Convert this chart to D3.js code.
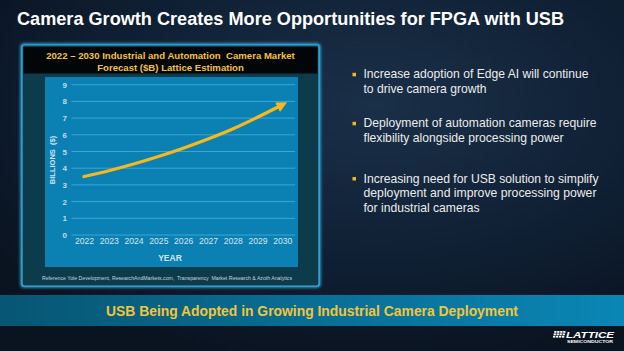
<!DOCTYPE html>
<html>
<head>
<meta charset="utf-8">
<script src="https://cdn.jsdelivr.net/npm/d3@7"></script>
<style>
  html, body { margin: 0; padding: 0; background: #0c1828; }
  svg { display: block; font-family: "Liberation Sans", Arial, sans-serif; }
  text { white-space: pre; }
</style>
</head>
<body>
<div id="chart"></div>
<script>
// Chart data.
const years = ["2022", "2023", "2024", "2025", "2026", "2027", "2028", "2029", "2030"];
const marketValues = [3.5, 3.85, 4.25, 4.7, 5.2, 5.75, 6.35, 7.05, 7.8];
const yTicks = [0, 1, 2, 3, 4, 5, 6, 7, 8, 9];

const slideTitle = "Camera Growth Creates More Opportunities for FPGA with USB";
const chartTitle = ["2022 \u2013 2030 Industrial and Automation  Camera Market", "Forecast ($B) Lattice Estimation"];
const bullets = [
  ["Increase adoption of Edge AI will continue", "to drive camera growth"],
  ["Deployment of automation cameras require", "flexibility alongside processing power"],
  ["Increasing need for USB solution to simplify", "deployment and improve processing power", "for industrial cameras"]
];
const bannerText = "USB Being Adopted in Growing Industrial Camera Deployment";
const sourceText = "Reference Yole Development, ResearchAndMarkets.com,  Transparency  Market Research & Azoth Analytics";

const width = 624;
const height = 351;

const svg = d3.select("#chart")
  .append("svg")
  .attr("width", width)
  .attr("height", height);

const defs = svg.append("defs");

// Background gradient.
const bg = defs.append("radialGradient")
  .attr("id", "bg")
  .attr("cx", "60%").attr("cy", "30%").attr("r", "75%");
bg.append("stop").attr("offset", "0%").attr("stop-color", "#1a3048");
bg.append("stop").attr("offset", "60%").attr("stop-color", "#0f1f33");
bg.append("stop").attr("offset", "100%").attr("stop-color", "#0a1320");

const banner = defs.append("linearGradient")
  .attr("id", "banner")
  .attr("x1", "0%").attr("x2", "100%");
banner.append("stop").attr("offset", "0%").attr("stop-color", "#075673");
banner.append("stop").attr("offset", "100%").attr("stop-color", "#0a86b5");

const glow = defs.append("filter").attr("id", "glow")
  .attr("x", "-10%").attr("y", "-10%").attr("width", "120%").attr("height", "120%");
glow.append("feGaussianBlur").attr("stdDeviation", 1.5);

defs.append("marker")
  .attr("id", "arrow")
  .attr("viewBox", "0 0 10 10")
  .attr("refX", 5).attr("refY", 5)
  .attr("markerWidth", 3.4).attr("markerHeight", 3.4)
  .attr("orient", "auto")
  .append("path")
  .attr("d", "M0,0 L10,5 L0,10 z")
  .attr("fill", "#f6b81c");

svg.append("rect")
  .attr("width", width).attr("height", height)
  .attr("fill", "url(#bg)");

// Slide title.
svg.append("text")
  .attr("x", 17).attr("y", 25)
  .attr("fill", "#ffffff")
  .attr("font-size", 17.5)
  .attr("font-weight", "bold")
  .attr("textLength", 547)
  .attr("lengthAdjust", "spacingAndGlyphs")
  .text(slideTitle);

// Chart frame.
svg.append("rect")
  .attr("x", 22).attr("y", 45).attr("width", 297).attr("height", 241)
  .attr("rx", 2)
  .attr("fill", "none")
  .attr("stroke", "#36b4ea")
  .attr("stroke-width", 3)
  .attr("filter", "url(#glow)");
svg.append("rect")
  .attr("x", 22).attr("y", 45).attr("width", 297).attr("height", 241)
  .attr("rx", 2)
  .attr("fill", "#0c3b4b")
  .attr("stroke", "#3cb2e6")
  .attr("stroke-width", 1.2);

svg.append("rect")
  .attr("x", 23.5).attr("y", 47).attr("width", 294).attr("height", 26.5)
  .attr("fill", "#020608");

svg.selectAll("text.chart-title")
  .data(chartTitle)
  .join("text")
  .attr("class", "chart-title")
  .attr("x", 170.5)
  .attr("y", (d, i) => 59 + i * 11.5)
  .attr("text-anchor", "middle")
  .attr("fill", "#f4c243")
  .attr("font-size", 9.6)
  .attr("font-weight", "bold")
  .text((d) => d);

// Plot area.
svg.append("rect")
  .attr("x", 45).attr("y", 77).attr("width", 253).attr("height", 190)
  .attr("fill", "#0b80b3");

const x = d3.scalePoint()
  .domain(years)
  .range([84, 282.3]);

const y = d3.scaleLinear()
  .domain([0, 9])
  .range([235, 84.7]);

// Gridlines.
svg.selectAll("line.grid")
  .data(yTicks)
  .join("line")
  .attr("class", "grid")
  .attr("x1", 71.5).attr("x2", 295)
  .attr("y1", (d) => y(d)).attr("y2", (d) => y(d))
  .attr("stroke", "#3aa6d6")
  .attr("stroke-width", 1);

// Axes (ticks and domain hidden, labels only).
const yAxis = svg.append("g")
  .attr("transform", "translate(67,0)")
  .call(d3.axisLeft(y).tickValues(yTicks).tickSize(0).tickPadding(0));
yAxis.select(".domain").remove();
yAxis.selectAll("text")
  .attr("fill", "#c9dbe6")
  .attr("font-size", 8)
  .attr("font-weight", "bold")
  .attr("font-family", "Liberation Sans, Arial, sans-serif");

const xAxis = svg.append("g")
  .attr("transform", "translate(0,238)")
  .call(d3.axisBottom(x).tickSize(0).tickPadding(0));
xAxis.select(".domain").remove();
xAxis.selectAll("text")
  .attr("fill", "#d6e6ef")
  .attr("font-size", 8.6)
  .attr("font-family", "Liberation Sans, Arial, sans-serif");

svg.append("text")
  .attr("x", 170).attr("y", 261)
  .attr("text-anchor", "middle")
  .attr("fill", "#d6e6ef")
  .attr("font-size", 8.5)
  .attr("font-weight", "bold")
  .text("YEAR");

svg.append("text")
  .attr("transform", "translate(55,160) rotate(-90)")
  .attr("text-anchor", "middle")
  .attr("fill", "#d6e6ef")
  .attr("font-size", 7.5)
  .attr("font-weight", "bold")
  .text("BILLIONS  ($)");

// Growth arrow.
const line = d3.line()
  .x((d, i) => x(years[i]))
  .y((d) => y(d))
  .curve(d3.curveMonotoneX);

svg.append("path")
  .datum(marketValues)
  .attr("fill", "none")
  .attr("stroke", "#f6b81c")
  .attr("stroke-width", 3.2)
  .attr("stroke-linecap", "round")
  .attr("marker-end", "url(#arrow)")
  .attr("d", line);

// Source note.
svg.append("text")
  .attr("x", 42).attr("y", 279.5)
  .attr("fill", "#c8d6de")
  .attr("font-size", 4.8)
  .attr("textLength", 250)
  .attr("lengthAdjust", "spacingAndGlyphs")
  .text(sourceText);

// Bullets.
const bulletTop = [78.3, 127.3, 182.5];
const lineWidths = [[225, 123], [233, 200], [235, 233, 116]];
bullets.forEach((lines, b) => {
  svg.append("rect")
    .attr("x", 352.5).attr("y", bulletTop[b] - 5.5)
    .attr("width", 3.5).attr("height", 3.5)
    .attr("fill", "#f0b821");
  lines.forEach((t, i) => {
    svg.append("text")
      .attr("x", 363.5)
      .attr("y", bulletTop[b] + i * 14.6)
      .attr("fill", "#ececec")
      .attr("font-size", 12.6)
      .attr("textLength", lineWidths[b][i])
      .attr("lengthAdjust", "spacingAndGlyphs")
      .text(t);
  });
});

// Bottom banner.
svg.append("rect")
  .attr("x", 0).attr("y", 295).attr("width", width).attr("height", 31)
  .attr("fill", "url(#banner)");
svg.append("text")
  .attr("x", 312).attr("y", 316)
  .attr("text-anchor", "middle")
  .attr("fill", "#f2c53a")
  .attr("font-size", 14)
  .attr("font-weight", "bold")
  .attr("textLength", 412)
  .attr("lengthAdjust", "spacingAndGlyphs")
  .text(bannerText);

// Logo.
const logo = svg.append("g").attr("transform", "translate(553,331)");
d3.range(3).forEach((r) => {
  d3.range(4).forEach((c) => {
    logo.append("rect")
      .attr("x", c * 3 - r * 0.6 + 1.2).attr("y", r * 2.4)
      .attr("width", 2.3).attr("height", 1.8)
      .attr("fill", "#ffffff");
  });
});
logo.append("text")
  .attr("x", 13).attr("y", 6.8)
  .attr("fill", "#ffffff")
  .attr("font-size", 8.5)
  .attr("font-weight", "bold")
  .attr("font-style", "italic")
  .attr("textLength", 48)
  .attr("lengthAdjust", "spacingAndGlyphs")
  .text("LATTICE");
logo.append("text")
  .attr("x", 14).attr("y", 11.8)
  .attr("fill", "#ffffff")
  .attr("font-size", 2.6)
  .attr("font-weight", "bold")
  .attr("textLength", 46)
  .attr("lengthAdjust", "spacingAndGlyphs")
  .text("SEMICONDUCTOR");
</script>
</body>
</html>
